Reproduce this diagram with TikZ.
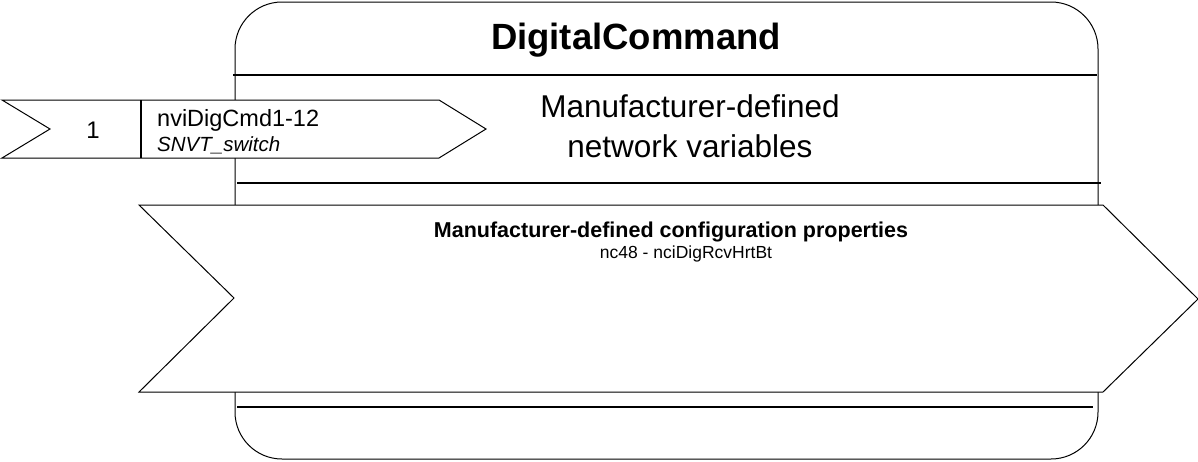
\documentclass[tikz,border=0pt]{standalone}
\usepackage{fontspec}
\setmainfont{Liberation Sans}
\tikzset{
  thinln/.style={line width=1pt, draw=black},
  sepln/.style={line width=2pt, draw=black},
  arrowshape/.style={line width=1pt, draw=black, fill=white, line join=miter},
  lbl/.style={inner sep=0pt, anchor=base},
}
\begin{document}
\begin{tikzpicture}[x=1pt,y=-1pt]
\useasboundingbox (0,0) rectangle (1198,461);
% main block
\draw[thinln, rounded corners=47pt] (235,2) rectangle (1098,459);
\draw[sepln] (233,75) -- (1097,75);
\draw[sepln] (237,183) -- (1101,183);
\draw[sepln] (237,407) -- (1093,407);
% title
\node[lbl] (title) at (636,49) {\fontsize{36.5}{40}\selectfont\bfseries DigitalCommand};
\node[lbl] (nv1) at (690,117) {\fontsize{31.5}{36}\selectfont Manufacturer-defined};
\node[lbl] (nv2) at (690,157) {\fontsize{31.5}{36}\selectfont network variables};
% input arrow
\draw[arrowshape] (2,100) -- (439,100) -- (486,129) -- (439,158) -- (2,158) -- (50,129) -- cycle;
\draw[sepln] (141,100) -- (141,158);
\node[lbl] (num) at (93,138) {\fontsize{24}{28}\selectfont 1};
\node[lbl, anchor=base west] (nvname) at (157,126) {\fontsize{23.5}{27}\selectfont nviDigCmd1-12};
\node[lbl, anchor=base west] (nvtype) at (157,151) {\fontsize{20.5}{24}\selectfont\itshape SNVT\_switch};
% configuration arrow
\draw[arrowshape] (139,205) -- (1103,205) -- (1198,299) -- (1103,392) -- (139,392) -- (234,298) -- cycle;
\node[lbl] (cph) at (671,237) {\fontsize{21.5}{25}\selectfont\bfseries Manufacturer-defined configuration properties};
\node[lbl] (cp1) at (686,258) {\fontsize{17.5}{21}\selectfont nc48 - nciDigRcvHrtBt};
\end{tikzpicture}
\end{document}
